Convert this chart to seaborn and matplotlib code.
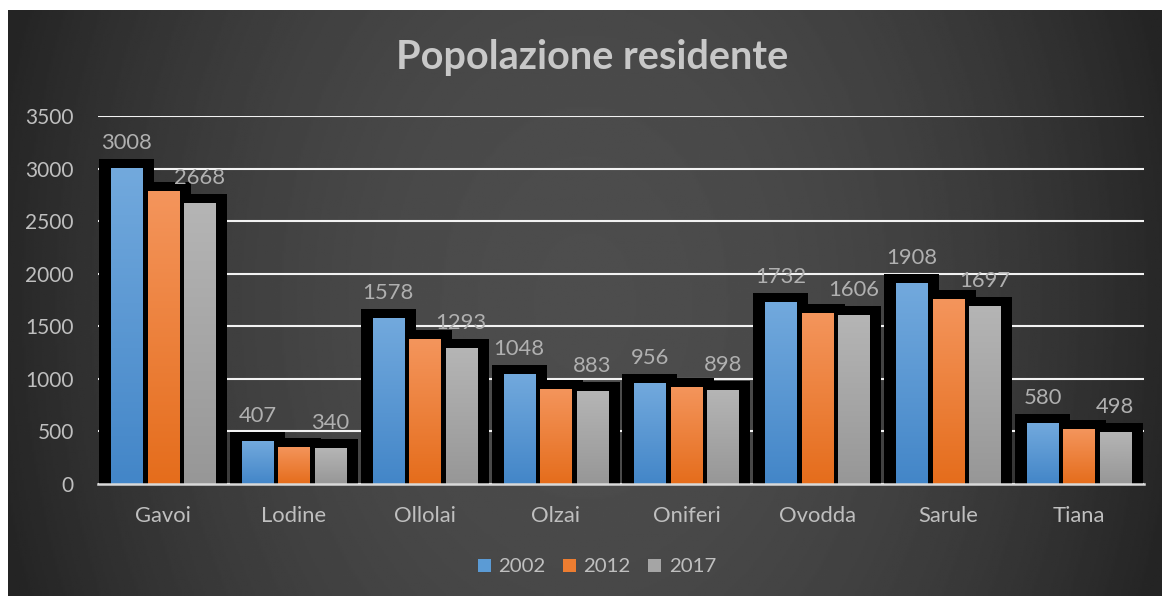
import numpy as np
import pandas as pd
import matplotlib.pyplot as plt
import seaborn as sns
from matplotlib.patches import Rectangle, Patch
from matplotlib.colors import LinearSegmentedColormap

# dati
comuni = ["Gavoi", "Lodine", "Ollolai", "Olzai", "Oniferi", "Ovodda", "Sarule", "Tiana"]
anni = ["2002", "2012", "2017"]
pop_2002 = [3008, 407, 1578, 1048, 956, 1732, 1908, 580]
pop_2012 = [2787, 352, 1379, 904, 923, 1628, 1760, 523]
pop_2017 = [2668, 340, 1293, 883, 898, 1606, 1697, 498]

df = pd.DataFrame({
    "Comune": comuni * 3,
    "Anno": [a for a in anni for _ in comuni],
    "Popolazione": pop_2002 + pop_2012 + pop_2017,
})

# colori (alto, basso) per il gradiente delle barre
colori = {
    "2002": ("#72a9dd", "#4386c8"),
    "2012": ("#f4955c", "#e56d1c"),
    "2017": ("#b5b5b5", "#979797"),
}
colori_legenda = {"2002": "#5b9bd5", "2012": "#ed7d31", "2017": "#a5a5a5"}

sns.set_theme(style="white")
plt.rcParams["font.family"] = ["Lato", "DejaVu Sans"]
testo = "#bfbfbf"

W, H = 1162, 596
fig = plt.figure(figsize=(W / 100, H / 100), dpi=100, facecolor="white")

# sfondo con gradiente radiale
bg = fig.add_axes([8 / W, 0, (W - 8) / W, (H - 10) / H])
yy, xx = np.mgrid[0:1:300j, 0:1:600j]
r2 = ((xx - 0.5) / 0.5) ** 2 + ((yy - 0.5) / 1.35) ** 2
val = np.clip(77 - 37 * r2, 36, 80) / 255
bg.imshow(val, cmap="gray", vmin=0, vmax=1, aspect="auto", extent=[0, 1, 0, 1])
bg.set_axis_off()

x0, x1 = 97.6, 1144.4
y0, y1 = 484, 116
ax = fig.add_axes([x0 / W, (H - y0) / H, (x1 - x0) / W, (y0 - y1) / H])
ax.set_facecolor("none")

sns.barplot(data=df, x="Comune", y="Popolazione", hue="Anno", order=comuni,
            hue_order=anni, palette=colori_legenda, width=0.837, gap=0.15,
            ax=ax, legend=False, zorder=3)

px_x = (x1 - x0) / len(comuni)      # pixel per unita' categoria
px_y = (y0 - y1) / 3500             # pixel per abitante

bars = list(ax.patches)
# ombre nere dietro ogni barra
for p in bars:
    bx, bw, bh = p.get_x(), p.get_width(), p.get_height()
    ax.add_patch(Rectangle((bx - 12 / px_x, 0), bw + 24 / px_x, bh + 9 / px_y,
                           facecolor="black", edgecolor="none", zorder=1))

# gradiente nelle barre
for i, p in enumerate(bars):
    anno = anni[i // len(comuni)]
    top, bot = colori[anno]
    cmap = LinearSegmentedColormap.from_list(anno, [bot, top])
    bx, bw, bh = p.get_x(), p.get_width(), p.get_height()
    grad = np.linspace(0, 1, 100).reshape(-1, 1)
    im = ax.imshow(grad, cmap=cmap, origin="lower", aspect="auto",
                   extent=[bx, bx + bw, 0, bh], zorder=4)
    im.set_clip_path(p)
    p.set_facecolor("none")
    p.set_edgecolor("none")

# etichette dati (2002 e 2017; quelle del 2012 sono coperte dalle ombre)
for i, p in enumerate(bars):
    anno = anni[i // len(comuni)]
    if anno == "2012":
        continue
    ax.annotate(f"{int(p.get_height())}", (p.get_x() + p.get_width() / 2, p.get_height()),
                xytext=(0, 18), textcoords="offset points", ha="center", va="center",
                fontsize=15.8, color="#b0b0b0", zorder=5)

ax.set_xlim(-0.5, len(comuni) - 0.5)
ax.set_ylim(0, 3500)
ax.set_yticks(range(0, 3501, 500))
ax.yaxis.grid(True, color="#f2f2f2", linewidth=1.5, zorder=0)
ax.set_axisbelow(True)
for s in ["top", "right", "left"]:
    ax.spines[s].set_visible(False)
ax.spines["bottom"].set_color("#d9d9d9")
ax.spines["bottom"].set_linewidth(1.8)
ax.spines["bottom"].set_zorder(6)
ax.tick_params(axis="both", length=0, labelcolor=testo)
ax.tick_params(axis="y", pad=17, labelsize=15)
ax.tick_params(axis="x", pad=16, labelsize=15.8)
ax.set_xlabel("")
ax.set_ylabel("")

fig.text(592 / W, 1 - 58 / H, "Popolazione residente", ha="center", va="center",
         fontsize=28.5, fontweight="bold", color="#c8c8c8")

handles = [Patch(facecolor=colori_legenda[a], edgecolor="none") for a in anni]
fig.legend(handles, anni, loc="center", bbox_to_anchor=(597 / W, 1 - 567 / H),
           ncol=3, frameon=False, fontsize=14.7, labelcolor=testo,
           handlelength=0.65, handleheight=0.65, handletextpad=0.35, columnspacing=0.85)

fig.savefig("out.png", dpi=100, facecolor="white")
